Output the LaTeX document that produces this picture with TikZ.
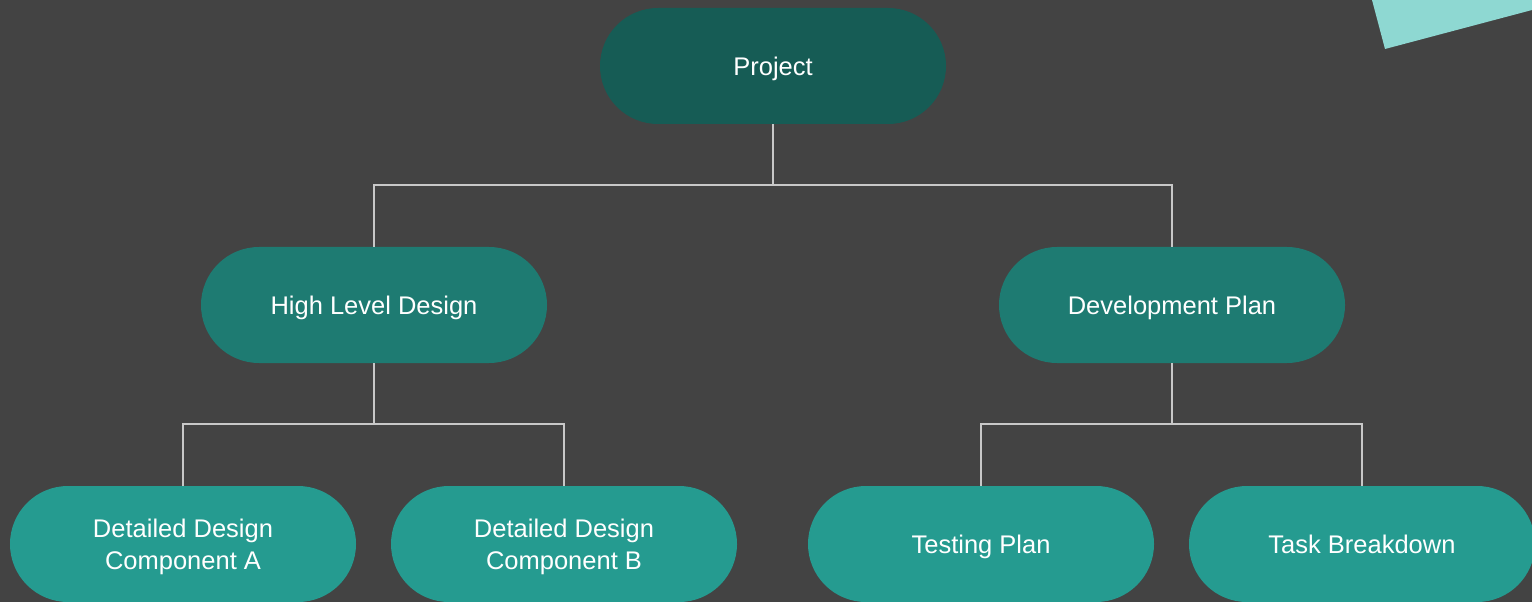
\documentclass[tikz,border=0pt]{standalone}
\usepackage{fontspec}
\setmainfont{Liberation Sans}
\definecolor{bgdark}{HTML}{434343}
\definecolor{lvlone}{HTML}{165C55}
\definecolor{lvltwo}{HTML}{1E7B72}
\definecolor{lvlthree}{HTML}{259B90}
\definecolor{accent}{HTML}{8ED8D2}
\definecolor{wire}{HTML}{C8C8C8}
\begin{document}
\begin{tikzpicture}[x=1bp,y=-1bp,
  pill/.style={rectangle, rounded corners=58bp, minimum width=346bp, minimum height=116bp,
    inner sep=0pt, text=white, align=center, text depth=0pt,
    font=\fontsize{25.5bp}{32bp}\selectfont},
  top/.style={pill, fill=lvlone},
  mid/.style={pill, fill=lvltwo},
  leaf/.style={pill, fill=lvlthree},
  link/.style={draw=wire, line width=1.6bp}]
  \fill[bgdark] (0,0) rectangle (1532,602);
  \useasboundingbox (0,0) rectangle (1532,602);
  % corner accent
  \fill[accent] (1372,0) -- (1385,49) -- (1532,10) -- (1532,0) -- cycle;
  % nodes
  \node[top]  (proj) at (773,66)  {Project};
  \node[mid]  (hld)  at (374,305) {High Level Design};
  \node[mid]  (dev)  at (1172,305) {Development Plan};
  \node[leaf] (dda)  at (183,544) {Detailed Design\\Component A};
  \node[leaf] (ddb)  at (564,544) {Detailed Design\\Component B};
  \node[leaf] (test) at (981,544) {Testing Plan};
  \node[leaf] (task) at (1362,544) {Task Breakdown};
  % connectors
  \draw[link] (proj.south) -- ++(0,61) -| (hld.north);
  \draw[link] (proj.south) ++(0,61) -| (dev.north);
  \draw[link] (hld.south) -- ++(0,61) -| (dda.north);
  \draw[link] (hld.south) ++(0,61) -| (ddb.north);
  \draw[link] (dev.south) -- ++(0,61) -| (test.north);
  \draw[link] (dev.south) ++(0,61) -| (task.north);
\end{tikzpicture}
\end{document}
